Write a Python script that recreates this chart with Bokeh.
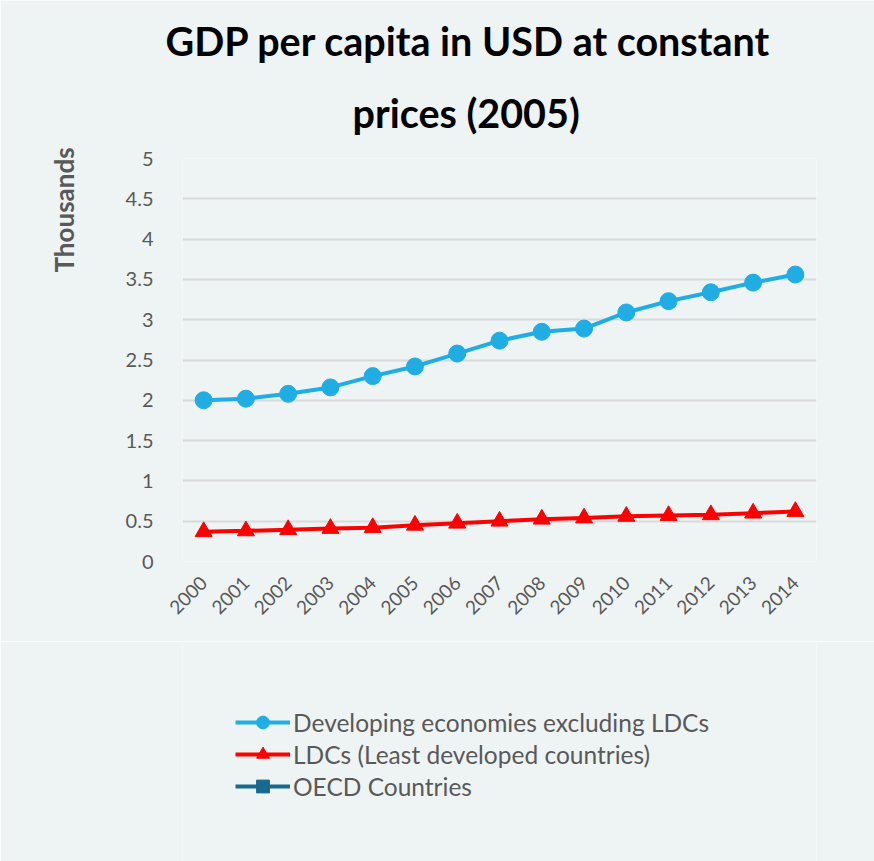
import math
from bokeh.plotting import figure
from bokeh.layouts import column
from bokeh.models import (ColumnDataSource, FactorRange, Range1d, Legend, LegendItem,
                          Title, FixedTicker)
from bokeh.embed import file_html
from bokeh.resources import INLINE

years = ["2000", "2001", "2002", "2003", "2004", "2005", "2006", "2007",
         "2008", "2009", "2010", "2011", "2012", "2013", "2014"]
developing = [2.00, 2.02, 2.08, 2.16, 2.30, 2.42, 2.58, 2.74, 2.85, 2.89,
              3.09, 3.23, 3.34, 3.46, 3.56]
ldcs = [0.37, 0.38, 0.395, 0.41, 0.42, 0.45, 0.475, 0.50, 0.525, 0.54,
        0.56, 0.57, 0.58, 0.60, 0.62]
oecd_years = []
oecd = []
y_ticks = [0, 0.5, 1, 1.5, 2, 2.5, 3, 3.5, 4, 4.5, 5]

title_lines = ["GDP per capita in USD at constant", "prices (2005)"]
y_title = "Thousands"
series_names = ["Developing economies excluding LDCs",
                "LDCs (Least developed countries)",
                "OECD Countries"]

BG = "#eef4f4"
GRAY = "#595959"
FONT = "Lato"
COL_DEV, COL_LDC, COL_OECD = "#1fade4", "#ff0000", "#17698e"

W = 874
H_LEG = 220

# ---------- main chart ----------
p = figure(x_range=FactorRange(factors=years, range_padding=0),
           y_range=Range1d(0, 5),
           frame_width=634, frame_height=403,
           min_border_left=182, min_border_right=58,
           min_border_top=158, min_border_bottom=80,
           output_backend="svg", toolbar_location=None,
           background_fill_color=BG, border_fill_color=BG)
p.outline_line_color = None

src_dev = ColumnDataSource(dict(x=years, y=developing))
src_ldc = ColumnDataSource(dict(x=years, y=ldcs))
src_oecd = ColumnDataSource(dict(x=oecd_years, y=oecd))

p.line("x", "y", source=src_dev, line_color=COL_DEV, line_width=4)
p.scatter("x", "y", source=src_dev, marker="circle", size=17,
          fill_color=COL_DEV, line_color=COL_DEV)
p.line("x", "y", source=src_ldc, line_color=COL_LDC, line_width=4)
p.scatter("x", "y", source=src_ldc, marker="triangle", size=17,
          fill_color=COL_LDC, line_color=COL_LDC)
p.line("x", "y", source=src_oecd, line_color=COL_OECD, line_width=4)
p.scatter("x", "y", source=src_oecd, marker="square", size=15,
          fill_color=COL_OECD, line_color=COL_OECD)

p.yaxis.ticker = FixedTicker(ticks=y_ticks)
p.yaxis.axis_line_color = None
p.yaxis.major_tick_line_color = None
p.yaxis.minor_tick_line_color = None
p.yaxis.major_label_text_font = FONT
p.yaxis.major_label_text_font_size = "20px"
p.yaxis.major_label_text_color = GRAY
p.yaxis.major_label_standoff = 23

p.xaxis.axis_line_color = None
p.xaxis.major_tick_line_color = None
p.xaxis.minor_tick_line_color = None
p.xaxis.major_label_text_font = FONT
p.xaxis.major_label_text_font_size = "19px"
p.xaxis.major_label_text_color = GRAY
p.xaxis.major_label_orientation = math.pi / 4
p.xaxis.major_label_standoff = 12

p.xgrid.grid_line_color = None
p.ygrid.grid_line_color = "#d9d9d9"
p.ygrid.grid_line_width = 2

# y title near the top of the left side
p.add_layout(Title(text=y_title, align="left", offset=289, standoff=86,
                   text_font=FONT, text_font_style="bold", text_font_size="26px",
                   text_color=GRAY), "left")

# chart title: two lines (second line added first so it sits nearer the frame)
p.add_layout(Title(text=title_lines[1], align="left", offset=170,
                   text_font=FONT, text_font_style="bold", text_font_size="39.5px",
                   text_color="#000000", standoff=46), "above")
p.add_layout(Title(text=title_lines[0], align="left", offset=-17,
                   text_font=FONT, text_font_style="bold", text_font_size="39.5px",
                   text_color="#000000", standoff=0), "above")

# ---------- legend strip ----------
pl = figure(width=W, height=H_LEG, x_range=Range1d(0, 1), y_range=Range1d(0, 1),
            min_border_left=182, min_border_right=58, min_border_top=0,
            min_border_bottom=0, x_axis_location=None, y_axis_location=None,
            output_backend="svg", toolbar_location=None,
            background_fill_color=BG, border_fill_color=BG)
pl.outline_line_color = None
pl.grid.visible = False
nan = float("nan")
key_src = ColumnDataSource(dict(x=[nan], y=[nan]))
k1 = pl.line("x", "y", source=key_src, line_color=COL_DEV, line_width=4)
s1 = pl.scatter("x", "y", source=key_src, marker="circle", size=17,
                fill_color=COL_DEV, line_color=COL_DEV)
k2 = pl.line("x", "y", source=key_src, line_color=COL_LDC, line_width=4)
s2 = pl.scatter("x", "y", source=key_src, marker="triangle", size=17,
                fill_color=COL_LDC, line_color=COL_LDC)
k3 = pl.line("x", "y", source=key_src, line_color=COL_OECD, line_width=4)
s3 = pl.scatter("x", "y", source=key_src, marker="square", size=15,
                fill_color=COL_OECD, line_color=COL_OECD)

legend = Legend(items=[
    LegendItem(label=series_names[0], renderers=[k1, s1]),
    LegendItem(label=series_names[1], renderers=[k2, s2]),
    LegendItem(label=series_names[2], renderers=[k3, s3]),
], location=(53, 59))
legend.background_fill_alpha = 0
legend.border_line_alpha = 0
legend.padding = 0
legend.margin = 0
legend.glyph_width = 55
legend.glyph_height = 32
legend.label_height = 28
legend.spacing = 0
legend.label_standoff = 3
legend.label_text_font = FONT
legend.label_text_font_size = "24.5px"
legend.label_text_color = GRAY
pl.add_layout(legend, "center")

layout = column(p, pl, spacing=0)
open("out.html", "w").write(file_html(layout, INLINE))
